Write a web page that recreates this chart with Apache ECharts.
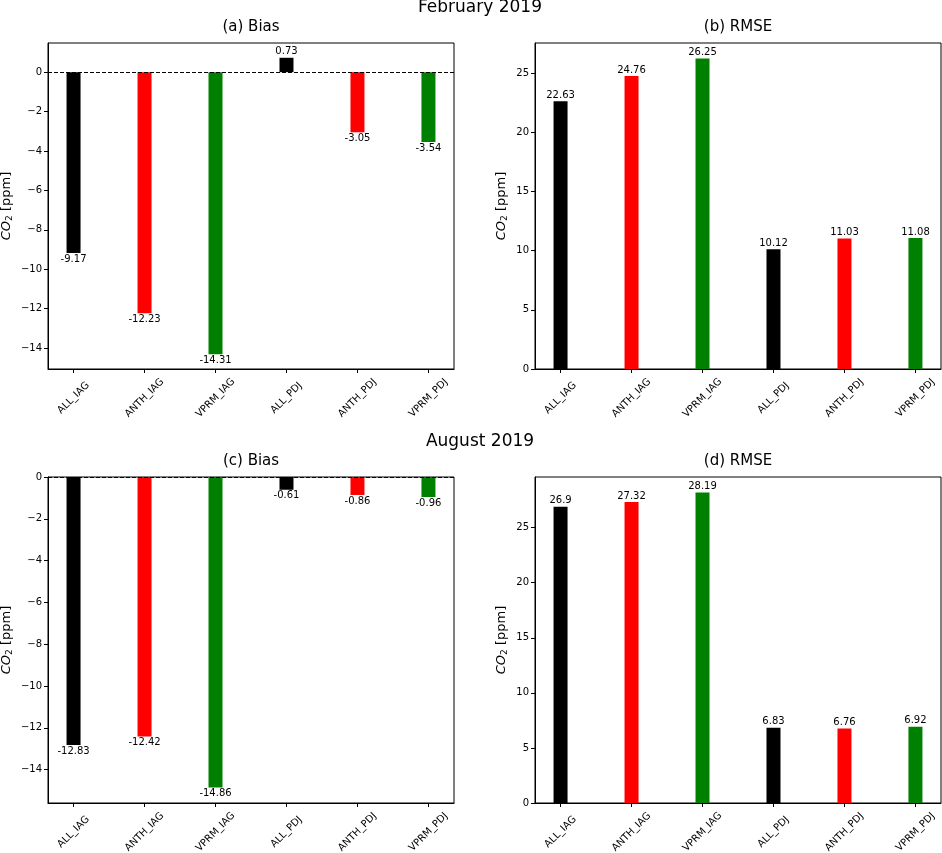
<!DOCTYPE html>
<html>
<head>
<meta charset="utf-8">
<title>CO2 bias and RMSE</title>
<script src="https://cdn.jsdelivr.net/npm/echarts@6/dist/echarts.min.js"></script>
<style>
  html, body { margin: 0; padding: 0; background: #fff; }
  #chart { width: 942px; height: 853px; }
</style>
</head>
<body>
<div id="chart"></div>
<script>
// data
var categories = ['ALL_IAG', 'ANTH_IAG', 'VPRM_IAG', 'ALL_PDJ', 'ANTH_PDJ', 'VPRM_PDJ'];
var barColors = ['#000000', '#ff0000', '#008000', '#000000', '#ff0000', '#008000'];
var febBias = [-9.17, -12.23, -14.31, 0.73, -3.05, -3.54];
var febRmse = [22.63, 24.76, 26.25, 10.12, 11.03, 11.08];
var augBias = [-12.83, -12.42, -14.86, -0.61, -0.86, -0.96];
var augRmse = [26.9, 27.32, 28.19, 6.83, 6.76, 6.92];
var biasTicks = [-14, -12, -10, -8, -6, -4, -2, 0];
var rmseTicks = [0, 5, 10, 15, 20, 25];

var FONT = 'DejaVu Sans';

var panels = [
    { left: 48,  top: 43,  vals: febBias, min: -15.06, max: 1.48,  ticks: biasTicks, gap: 34, zero: true },
    { left: 535, top: 43,  vals: febRmse, min: 0,      max: 27.56, ticks: rmseTicks, gap: 26, zero: false },
    { left: 48,  top: 477, vals: augBias, min: -15.60, max: 0,     ticks: biasTicks, gap: 34, zero: true },
    { left: 535, top: 477, vals: augRmse, min: 0,      max: 29.60, ticks: rmseTicks, gap: 26, zero: false }
];

function minus(v) {
    return v < 0 ? '\u2212' + Math.abs(v) : String(v);
}

var grids = [], xAxes = [], yAxes = [], series = [];

panels.forEach(function(p, k) {
    grids.push({
        left: p.left, top: p.top, width: 406, height: 326,
        outerBoundsMode: 'none', containLabel: false,
        show: true, borderColor: '#000', borderWidth: 1,
        backgroundColor: 'transparent'
    });
    xAxes.push({
        type: 'value', gridIndex: k, min: -0.36, max: 5.36,
        splitLine: { show: false },
        axisLine: { show: true, onZero: false, lineStyle: { color: '#000' } },
        axisTick: { show: true, length: 4, customValues: [0, 1, 2, 3, 4, 5], lineStyle: { color: '#000' } },
        axisLabel: {
            customValues: [0, 1, 2, 3, 4, 5],
            formatter: function(v) { return categories[Math.round(v)]; },
            rotate: 45, align: 'center', verticalAlign: 'middle', margin: 29,
            color: '#000', fontFamily: FONT, fontSize: 10
        }
    });
    yAxes.push({
        type: 'value', gridIndex: k, min: p.min, max: p.max,
        splitLine: { show: false },
        axisLine: { show: true, onZero: false, lineStyle: { color: '#000' } },
        axisTick: { show: true, length: 4, customValues: p.ticks, lineStyle: { color: '#000' } },
        axisLabel: {
            customValues: p.ticks,
            formatter: minus,
            margin: 6, color: '#000', fontFamily: FONT, fontSize: 10
        },
        name: '{i|CO}{s|2} [ppm]',
        nameLocation: 'middle', nameRotate: 90, nameGap: p.gap,
        nameTextStyle: {
            color: '#000', fontFamily: FONT, fontSize: 13,
            rich: {
                i: { fontStyle: 'italic', fontFamily: FONT, fontSize: 13, color: '#000' },
                s: { fontFamily: FONT, fontSize: 9, color: '#000', verticalAlign: 'bottom', padding: [5, 0, 0, 0] }
            }
        }
    });

    var s = {
        type: 'bar', xAxisIndex: k, yAxisIndex: k,
        barWidth: 14,
        data: p.vals.map(function(v, i) {
            return {
                value: [i, v],
                itemStyle: { color: barColors[i] },
                label: { position: v < 0 ? 'bottom' : 'top' }
            };
        }),
        label: {
            show: true, distance: 1, color: '#000', fontFamily: FONT, fontSize: 10,
            formatter: function(d) { return String(d.value[1]); }
        },
        animation: false
    };
    if (p.zero) {
        s.markLine = {
            silent: true, symbol: 'none', animation: false,
            label: { show: false },
            lineStyle: { color: '#000', width: 1, type: [4, 2] },
            data: [{ yAxis: 0 }]
        };
    }
    series.push(s);
});

function title(text, x, y, size) {
    return {
        type: 'text', x: x, y: y,
        style: {
            text: text, fill: '#000', align: 'center', verticalAlign: 'middle',
            font: size + 'px "' + FONT + '"'
        }
    };
}

var myChart = echarts.init(document.getElementById('chart'));
myChart.setOption({
    animation: false,
    grid: grids,
    xAxis: xAxes,
    yAxis: yAxes,
    series: series,
    graphic: [
        title('February 2019', 480, 8, 17),
        title('(a) Bias', 251, 27, 15),
        title('(b) RMSE', 738, 27, 15),
        title('August 2019', 480, 442, 17),
        title('(c) Bias', 251, 461, 15),
        title('(d) RMSE', 738, 461, 15)
    ]
});
</script>
</body>
</html>
